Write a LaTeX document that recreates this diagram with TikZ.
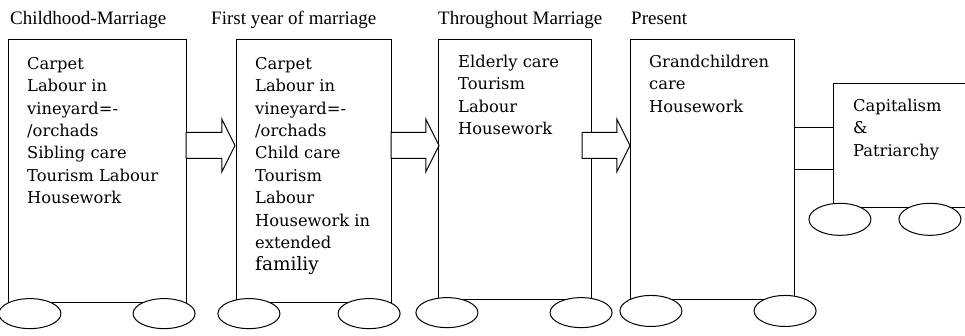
\documentclass[tikz,border=0pt]{standalone}
\usepackage{fontspec}
\setmainfont{Liberation Serif}
\newfontfamily\jobfont{DejaVu Serif}
\usetikzlibrary{positioning,shapes.geometric,shapes.arrows}

\tikzset{
  stage/.style={draw, rectangle, line width=1pt, inner sep=0pt, outer sep=0pt},
  wheel/.style={draw, fill=white, ellipse, line width=1pt, minimum width=62pt, minimum height=30pt, inner sep=0pt, outer sep=0pt},
  pipe/.style={draw, fill=white, single arrow, line width=1pt, inner xsep=0pt, inner ysep=12.5pt,
    minimum width=52pt, single arrow head extend=13.5pt, single arrow tip angle=127, outer sep=0pt},
  jobs/.style={anchor=north west, align=left, inner sep=0pt, execute at begin node=\strut,
    font=\jobfont\fontsize{16.3}{22.4}\selectfont},
  period/.style={anchor=base west, inner sep=0pt, font=\fontsize{19}{22}\selectfont}
}

\begin{document}
\begin{tikzpicture}[x=1pt,y=-1pt]
  \clip (0,0) rectangle (965,336);

  % the five stages
  \node[stage, minimum width=178pt, minimum height=262pt] (child) at (97,171) {};
  \node[stage, minimum width=155pt, minimum height=262pt] (first) [right=50pt of child.north east, anchor=north west] {};
  \node[stage, minimum width=153pt, minimum height=259pt] (through) [right=47pt of first.north east, anchor=north west] {};
  \node[stage, minimum width=164pt, minimum height=259pt] (present) [right=39pt of through.north east, anchor=north west] {};
  \node[stage, minimum width=150pt, minimum height=124pt] (system) [right=39pt of present.north east, anchor=north west, yshift=-44pt] {};

  % headings
  \node[period] (hchild) at ([xshift=2pt,yshift=15pt]child.north west) {Childhood-Marriage};
  \node[period] (hfirst) at ([xshift=-25pt,yshift=15pt]first.north west) {First year of marriage};
  \node[period] (hthrough) at ([xshift=0pt,yshift=15pt]through.north west) {Throughout Marriage};
  \node[period] (hpresent) at ([xshift=1pt,yshift=15pt]present.north west) {Present};

  % work in each stage
  \node[jobs] (tchild) at ([xshift=19pt,yshift=-17pt]child.north west)
    {Carpet\\Labour in\\vineyard=-\\/orchads\\Sibling care\\Tourism Labour\\Housework};
  \node[jobs] (tfirst) at ([xshift=19pt,yshift=-17pt]first.north west)
    {Carpet\\Labour in\\vineyard=-\\/orchads\\Child care\\Tourism\\Labour\\Housework in\\extended\\{\fontsize{18.5}{22.4}\selectfont familiy}};
  \node[jobs] (tthrough) at ([xshift=20pt,yshift=-15pt]through.north west)
    {Elderly care\\Tourism\\Labour\\Housework};
  \node[jobs] (tpresent) at ([xshift=19pt,yshift=-15pt]present.north west)
    {Grandchildren\\care\\Housework};
  \node[jobs] (tsystem) at ([xshift=20pt,yshift=-15pt]system.north west)
    {Capitalism\\\&\\Patriarchy};

  % wheels
  \node[wheel] (wc1) [anchor=north west] at ([yshift=-1pt]child.south west) {};
  \node[wheel] (wc2) [anchor=north east] at ([yshift=-1pt]child.south east) {};
  \node[wheel] (wf1) [anchor=north west] at ([xshift=-9pt,yshift=-1pt]first.south west) {};
  \node[wheel] (wf2) [anchor=north east] at ([yshift=-1pt]first.south east) {};
  \node[wheel] (wt1) [anchor=north west] at ([xshift=-13pt,yshift=-3pt]through.south west) {};
  \node[wheel] (wt2) [anchor=north east] at ([xshift=12pt,yshift=-3pt]through.south east) {};
  \node[wheel, minimum height=31pt] (wp1) [anchor=north west] at ([xshift=-1pt,yshift=-1pt]present.south west) {};
  \node[wheel, minimum height=31pt] (wp2) [anchor=north east] at ([xshift=13pt,yshift=-1pt]present.south east) {};
  \node[wheel, minimum height=32pt] (ws1) [anchor=north west] at ([xshift=-15pt]system.south west) {};
  \node[wheel, minimum height=32pt] (ws2) [anchor=north west] at ([xshift=75pt]system.south west) {};

  % arrows between stages
  \node[pipe, minimum height=49pt] (a1) [anchor=tail] at ([yshift=25.5pt]child.east) {};
  \node[pipe, minimum height=48pt] (a2) [anchor=tail] at ([yshift=25.5pt]first.east) {};
  \node[pipe, minimum height=48pt] (a3) [anchor=tail] at ([xshift=-9pt,yshift=24pt]through.east) {};

  % link to capitalism & patriarchy
  \draw[line width=1pt] ([yshift=18pt]system.west) -- ([yshift=18pt]system.west -| present.east);
  \draw[line width=1pt] ([yshift=-24pt]system.west) -- ([yshift=-24pt]system.west -| present.east);
\end{tikzpicture}
\end{document}
